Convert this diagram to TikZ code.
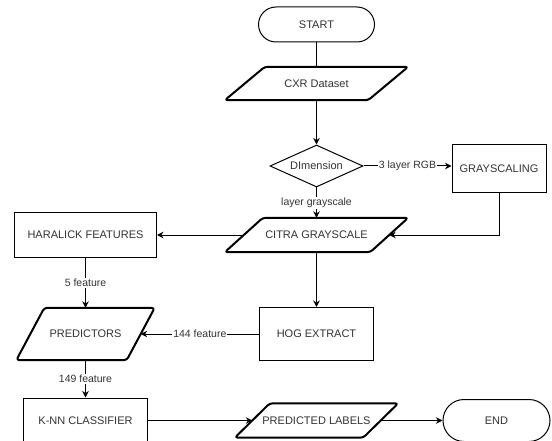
\documentclass[tikz,border=0pt]{standalone}
\usepackage{fontspec}
\setmainfont{Liberation Sans}
\usetikzlibrary{arrows.meta,shapes.geometric,calc}
\tikzset{
  base/.style={font=\fontsize{11}{13}\selectfont, text=black!80, inner sep=0pt},
  box/.style={base, draw, line width=1pt},
  term/.style={base, draw, line width=1pt},
  parabody/.style={base, draw=none},
  paraline/.style={draw, line width=2pt, rounded corners=3pt, line join=round},
  dia/.style={base, draw, line width=1pt, diamond, shape aspect=2.2, minimum width=93pt, minimum height=42pt},
  flow/.style={-{Stealth[length=6.5pt,width=6.5pt]}, line width=1pt},
  plain/.style={line width=1pt},
  elabel/.style={font=\fontsize{10.5}{12}\selectfont, text=black!80, fill=white, inner sep=1pt},
}
\newcommand\paradraw[2]{\draw[paraline] ([xshift=#2]#1.north west) -- ([xshift=#2]#1.north east) -- ([xshift=-#2]#1.south east) -- ([xshift=-#2]#1.south west) -- cycle;}
\begin{document}
\begin{tikzpicture}[x=1pt,y=-1pt]
\useasboundingbox[fill=white] (0,0) rectangle (552,441);
% nodes
\node[term, minimum width=116pt, minimum height=35pt, rounded corners=17.5pt] (start) at (316.5,24.5) {START};
\node[parabody, minimum width=143pt, minimum height=33pt] (cxr) at (316.5,83.5) {CXR Dataset};
\paradraw{cxr}{20pt}
\node[dia] (dim) at (316.5,166) {DImension};
\node[box, minimum width=94pt, minimum height=48pt] (gray) at (499,169) {GRAYSCALING};
\node[parabody, minimum width=145pt, minimum height=34pt] (citra) at (316.5,235) {CITRA GRAYSCALE};
\paradraw{citra}{19pt}
\node[box, minimum width=142pt, minimum height=44pt] (har) at (85.5,235) {HARALICK FEATURES};
\node[parabody, minimum width=110pt, minimum height=52pt] (pred) at (85.5,334) {PREDICTORS};
\paradraw{pred}{14pt}
\node[box, minimum width=114pt, minimum height=53pt] (hog) at (316.5,334) {HOG EXTRACT};
\node[box, minimum width=124pt, minimum height=45pt] (knn) at (85.5,420.5) {K-NN CLASSIFIER};
\node[parabody, minimum width=128pt, minimum height=34pt] (plab) at (316.5,420.5) {PREDICTED LABELS};
\paradraw{plab}{17.5pt}
\node[term, minimum width=107pt, minimum height=42pt, rounded corners=21pt] (end) at (496.5,420.5) {END};
% connectors
\draw[plain] (start.south) -- (cxr.north);
\draw[flow] (cxr.south) -- (dim.north);
\draw[flow] (dim.east) -- node[elabel] {3 layer RGB} (dim.east -| gray.west);
\draw[flow] (dim.south) -- node[elabel] {layer grayscale} (citra.north);
\draw[flow] (gray.south) |- (citra.east);
\draw[flow] (citra.west) -- (har.east);
\draw[flow] (citra.south) -- (hog.north);
\draw[flow] (har.south) -- node[elabel] {5 feature} (pred.north);
\draw[flow] (hog.west) -- node[elabel] {144 feature} (pred.east);
\draw[flow] (pred.south) -- node[elabel] {149 feature} (knn.north);
\draw[flow] (knn.east) -- (plab.west);
\draw[flow] (plab.east) -- (end.west);
\end{tikzpicture}
\end{document}
